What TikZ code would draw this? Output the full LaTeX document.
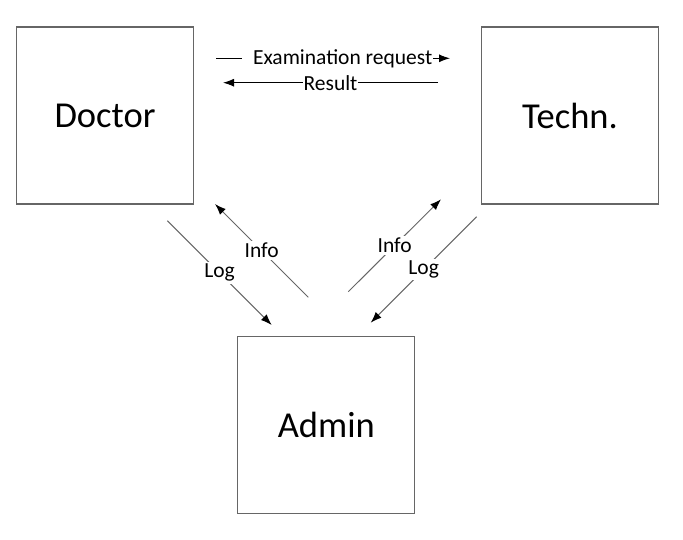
\documentclass[tikz,border=0pt]{standalone}
\usepackage{fontspec}
\setmainfont{Carlito}
\usepackage{tikz}
\usetikzlibrary{arrows.meta}
\usetikzlibrary{calc}
\tikzset{>={Latex[length=11pt,width=8pt,color=black]}}
\tikzset{unit/.style={draw=black!60,line width=1.2pt,minimum width=177pt,minimum height=177pt,font=\fontsize{36.5}{40}\selectfont}}
\tikzset{msg/.style={fill=white,inner sep=2pt,font=\fontsize{21.5}{24}\selectfont}}

\begin{document}
\begin{tikzpicture}[x=1pt,y=-1pt]
    \useasboundingbox (0,0) rectangle (683,539);
    \node[unit] (doctor) at (105,115.5) {Doctor};
    \node[unit] (techn) at (570,115.5) {Techn.};
    \node[unit] (admin) at (326.3,425) {Admin};
    \coordinate (reqA) at (216,58.3);
    \coordinate (reqB) at (450,58.3);
    \coordinate (resA) at (438,82.7);
    \coordinate (resB) at (223,82.7);
    \coordinate (logdA) at (167.3,220.7);
    \coordinate (logdB) at (271.7,325);
    \coordinate (infodA) at (308.3,297.3);
    \coordinate (infodB) at (215,204);
    \coordinate (infotA) at (348.3,291.7);
    \coordinate (infotB) at (441,199.3);
    \coordinate (logtA) at (476.7,216.7);
    \coordinate (logtB) at (370.7,322.7);
    \draw[->,line width=1pt] (reqA) -- node[msg,pos=0.52,inner xsep=1pt] {\hspace*{10pt}Examination request} (reqB);
    \draw[->,line width=1pt] (resA) -- node[msg,inner xsep=1pt] {Result} (resB);
    \foreach \a/\b/\txt in {logdA/logdB/Log,infodA/infodB/Info,infotA/infotB/Info,logtA/logtB/Log} {
      \draw[->,draw=black!60,line width=1pt] (\a) -- node[msg] {\txt} (\b);
    }
\end{tikzpicture}
\end{document}
